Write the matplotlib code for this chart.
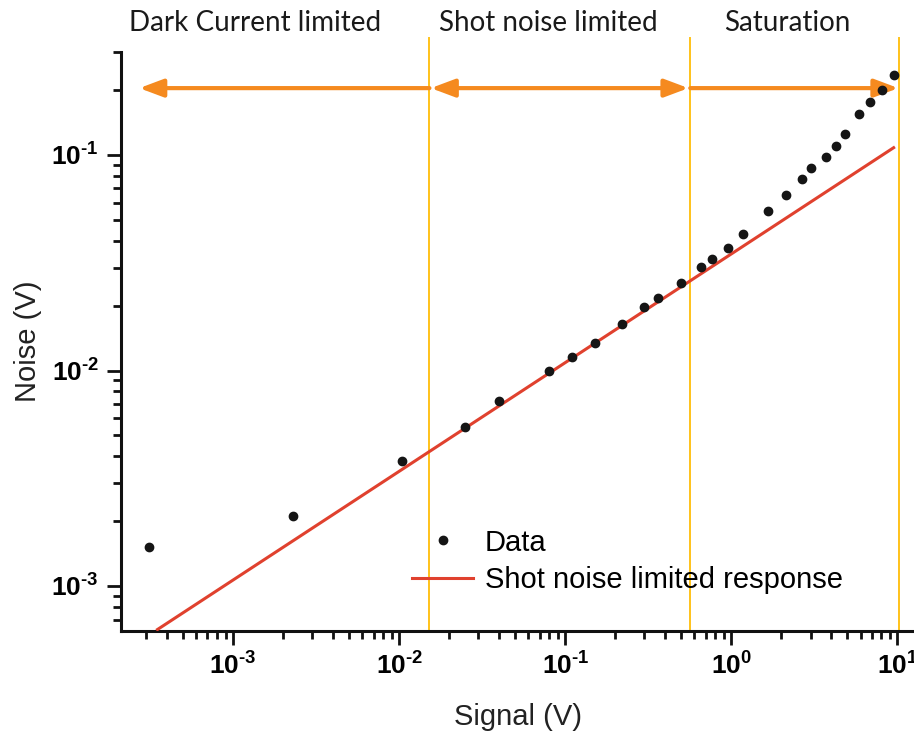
import numpy as np
import matplotlib
matplotlib.use("Agg")
import matplotlib.pyplot as plt
from matplotlib.lines import Line2D
from matplotlib.ticker import FuncFormatter, LogLocator, NullFormatter

# ---- data ----
signal = [3.1e-4, 2.3e-3, 1.04e-2, 2.5e-2, 4.0e-2, 8.0e-2, 1.1e-1, 1.5e-1,
          2.2e-1, 3.0e-1, 3.6e-1, 5.0e-1, 6.6e-1, 7.6e-1, 9.5e-1, 1.18,
          1.67, 2.15, 2.65, 3.0, 3.7, 4.25, 4.85, 5.9, 6.8, 8.1, 9.5]
noise = [1.52e-3, 2.12e-3, 3.8e-3, 5.5e-3, 7.2e-3, 1.0e-2, 1.16e-2, 1.34e-2,
         1.64e-2, 1.98e-2, 2.16e-2, 2.55e-2, 3.02e-2, 3.29e-2, 3.69e-2, 4.3e-2,
         5.47e-2, 6.55e-2, 7.75e-2, 8.7e-2, 0.098, 0.110, 0.125, 0.155, 0.175,
         0.200, 0.235]
fit_signal = [3.5e-4, 9.5]
fit_noise = [6.3e-4, 0.108]
boundaries = [0.0152, 0.566, 10.3]
region_labels = ["Dark Current limited", "Shot noise limited", "Saturation"]
xlim = (2.11e-4, 12.6)
ylim = (6.2e-4, 0.3)

matplotlib.rcParams["mathtext.fontset"] = "custom"
matplotlib.rcParams["mathtext.bf"] = "Liberation Sans:bold"
matplotlib.rcParams["mathtext.rm"] = "Liberation Sans:bold"
matplotlib.rcParams["mathtext.it"] = "Liberation Sans:bold"

W, H = 914, 735
fig = plt.figure(figsize=(W / 100, H / 100), dpi=100)
ax = fig.add_axes([121 / W, (H - 631) / H, (W - 121) / W, (631 - 52) / H])
ax.set_xscale("log")
ax.set_yscale("log")
ax.set_xlim(*xlim)
ax.set_ylim(*ylim)

ax.plot(fit_signal, fit_noise, color="#e0412e", lw=2.2, zorder=3)
ax.plot(signal, noise, "o", color="#151515", ms=6, zorder=4)

vcol = "#ffc21a"
y_top = 10 ** (np.log10(ylim[1]) + (52 - 38) / 216)
for b in boundaries:
    ax.plot([b, b], [ylim[0], y_top], color=vcol, lw=1.4, clip_on=False, zorder=2)

arrow_y = 0.204
acol = "#f58a1f"
left_end = 2.72e-4
aprops = dict(color=acol, lw=3, mutation_scale=18, shrinkA=0, shrinkB=0)
ax.annotate("", xy=(left_end, arrow_y), xytext=(boundaries[0], arrow_y),
            arrowprops=dict(arrowstyle="-|>,head_length=0.8,head_width=0.3", **aprops),
            annotation_clip=False)
ax.annotate("", xy=(boundaries[0] * 1.02, arrow_y), xytext=(boundaries[1] * 0.975, arrow_y),
            arrowprops=dict(arrowstyle="<|-|>,head_length=0.8,head_width=0.3", **aprops),
            annotation_clip=False)
ax.annotate("", xy=(boundaries[2] * 0.985, arrow_y), xytext=(boundaries[1], arrow_y),
            arrowprops=dict(arrowstyle="-|>,head_length=0.8,head_width=0.3", **aprops),
            annotation_clip=False)

label_x = [255, 548, 787]
for lx, txt in zip(label_x, region_labels):
    fig.text(lx / W, 1 - 23 / H, txt, ha="center", va="center",
             fontsize=20, family="Lato", color="#1a1a1a")

for s in ["top", "right"]:
    ax.spines[s].set_visible(False)
for s in ["left", "bottom"]:
    ax.spines[s].set_linewidth(2.2)
    ax.spines[s].set_color("#111111")


def fmt(v, pos):
    e = int(round(np.log10(v)))
    if e < 0:
        return r"$\mathbf{10^{\text{-}%d}}$" % (-e)
    return r"$\mathbf{10^{%d}}$" % e

ax.xaxis.set_major_locator(LogLocator(base=10, numticks=20))
ax.yaxis.set_major_locator(LogLocator(base=10, numticks=20))
ax.xaxis.set_minor_locator(LogLocator(base=10, subs=np.arange(2, 10), numticks=20))
ax.yaxis.set_minor_locator(LogLocator(base=10, subs=np.arange(2, 10), numticks=20))
ax.xaxis.set_major_formatter(FuncFormatter(fmt))
ax.yaxis.set_major_formatter(FuncFormatter(fmt))
ax.xaxis.set_minor_formatter(NullFormatter())
ax.yaxis.set_minor_formatter(NullFormatter())
ax.tick_params(which="major", length=10, width=2, direction="out", labelsize=19,
               color="#111111", pad=6)
ax.tick_params(which="minor", length=6, width=2, direction="out", color="#111111")

ax.set_xlabel("Signal (V)", fontsize=21, family="Liberation Sans", color="#222222", labelpad=16)
ax.set_ylabel("Noise (V)", fontsize=21, family="Liberation Sans", color="#222222")
ax.yaxis.set_label_coords(-(121 - 42) / (W - 121), 0.5)

handles = [Line2D([], [], marker="o", ls="none", color="#151515", ms=6),
           Line2D([], [], color="#e0412e", lw=2.2)]
ax.legend(handles, ["Data", "Shot noise limited response"], loc="center left",
          bbox_to_anchor=(0.367, 0.1205), frameon=False, borderpad=0, borderaxespad=0,
          handlelength=2.1, handletextpad=0.4, labelspacing=0.32,
          prop={"family": "Liberation Sans", "size": 21})

fig.savefig("out.png", dpi=100)
